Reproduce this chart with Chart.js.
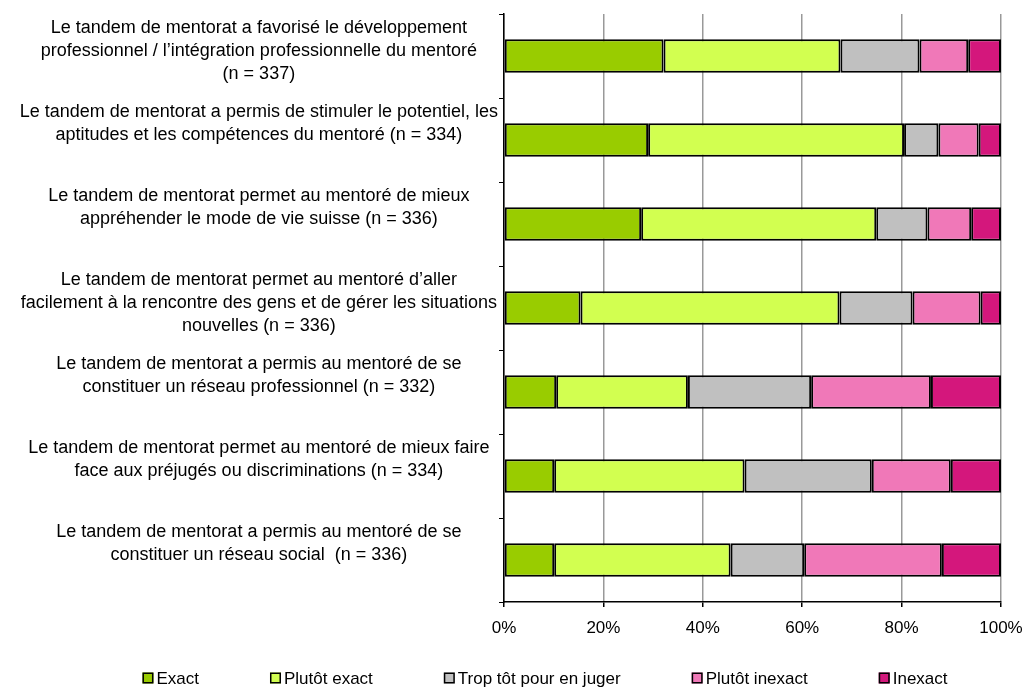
<!DOCTYPE html>
<html>
<head>
<meta charset="utf-8">
<script src="https://cdn.jsdelivr.net/npm/chart.js@4/dist/chart.umd.min.js"></script>
<style>
  body { margin: 0; background: #fff; }
  canvas { display: block; }
</style>
</head>
<body>
<canvas id="mentorat" width="1027" height="687"></canvas>
<script>
const categories = [
  ["Le tandem de mentorat a favorisé le développement", "professionnel / l’intégration professionnelle du mentoré", "(n = 337)"],
  ["Le tandem de mentorat a permis de stimuler le potentiel, les", "aptitudes et les compétences du mentoré (n = 334)"],
  ["Le tandem de mentorat permet au mentoré de mieux", "appréhender le mode de vie suisse (n = 336)"],
  ["Le tandem de mentorat permet au mentoré d’aller", "facilement à la rencontre des gens et de gérer les situations", "nouvelles (n = 336)"],
  ["Le tandem de mentorat a permis au mentoré de se", "constituer un réseau professionnel (n = 332)"],
  ["Le tandem de mentorat permet au mentoré de mieux faire", "face aux préjugés ou discriminations (n = 334)"],
  ["Le tandem de mentorat a permis au mentoré de se", "constituer un réseau social  (n = 336)"],
];

const seriesNames = ["Exact", "Plutôt exact", "Trop tôt pour en juger", "Plutôt inexact", "Inexact"];

const exact = [32.1, 29.0, 27.6, 15.4, 10.5, 10.1, 10.1];
const plutotExact = [35.6, 51.5, 47.3, 52.1, 26.5, 38.3, 35.5];
const tropTot = [15.9, 6.9, 10.3, 14.7, 24.8, 25.6, 14.8];
const plutotInexact = [9.8, 8.1, 8.8, 13.7, 24.1, 15.9, 27.7];
const inexact = [6.6, 4.5, 6.0, 4.1, 14.1, 10.1, 11.9];

const xTicks = [0, 20, 40, 60, 80, 100];

const colors = ["#99cc00", "#d2ff50", "#c0c0c0", "#f078b8", "#d4177c"];
const FONT = "'Liberation Sans', Arial, sans-serif";

// 2-line labels get an empty 3rd line so they sit above the bar like in the source
const yLabels = categories.map((c) => (c.length < 3 ? c.concat([""]) : c));

// legend drawn by hand: Chart.js legend padding is shared by x and y
const bottomLegend = {
  id: "bottomLegend",
  afterDraw(chart) {
    const ctx = chart.ctx;
    const box = 11;
    const gap = 71;
    const y = 678;
    ctx.save();
    ctx.font = "17px " + FONT;
    const widths = chart.data.datasets.map((d) => box + 3 + ctx.measureText(d.label).width);
    const total = widths.reduce((a, b) => a + b, 0) + gap * (widths.length - 1);
    let x = 545 - total / 2;
    chart.data.datasets.forEach((d, i) => {
      ctx.fillStyle = d.backgroundColor;
      ctx.fillRect(x, y - box / 2, box, box);
      ctx.strokeStyle = "#000";
      ctx.lineWidth = 1.5;
      ctx.strokeRect(x + 0.75, y - box / 2 + 0.75, box - 1.5, box - 1.5);
      ctx.fillStyle = "#000";
      ctx.textBaseline = "middle";
      ctx.textAlign = "left";
      ctx.fillText(d.label, x + box + 3, y + 1);
      x += widths[i] + gap;
    });
    ctx.restore();
  },
};

const allSeries = [exact, plutotExact, tropTot, plutotInexact, inexact];

const ctx = document.getElementById("mentorat").getContext("2d");
const mentoratChart = new Chart(ctx, {
  type: "bar",
  data: {
    labels: yLabels,
    datasets: allSeries.map((values, i) => ({
      label: seriesNames[i],
      data: values,
      backgroundColor: colors[i],
      borderColor: "#000",
      borderWidth: 2,
      borderSkipped: false,
      categoryPercentage: 1,
      barPercentage: 0.4,
    })),
  },
  options: {
    indexAxis: "y",
    responsive: false,
    animation: false,
    devicePixelRatio: 1,
    layout: {
      padding: { top: 14, right: 26, left: 0, bottom: 0 },
    },
    plugins: {
      legend: { display: false },
      tooltip: { enabled: false },
    },
    scales: {
      x: {
        stacked: true,
        min: 0,
        max: 100,
        afterBuildTicks: (scale) => {
          scale.ticks = xTicks.map((v) => ({ value: v }));
        },
        afterFit: (scale) => {
          scale.height = 85;
          scale.paddingLeft = 0;
          scale.paddingRight = 0;
        },
        ticks: {
          callback: (v) => v + "%",
          color: "#000",
          font: { family: FONT, size: 17 },
          padding: 11,
          maxRotation: 0,
        },
        grid: {
          color: "#999",
          lineWidth: 1.5,
          tickColor: "#000",
          tickLength: 5,
        },
        border: { color: "#000", width: 1.5 },
      },
      y: {
        stacked: true,
        afterFit: (scale) => {
          scale.width = 504;
          scale.paddingTop = 0;
          scale.paddingBottom = 0;
        },
        ticks: {
          crossAlign: "center",
          color: "#000",
          font: { family: FONT, size: 18, lineHeight: 1.28 },
          padding: 1,
          labelOffset: -5,
          autoSkip: false,
        },
        grid: {
          drawOnChartArea: false,
          color: "#000",
          tickLength: 5,
        },
        border: { color: "#000", width: 1.5 },
      },
    },
  },
  plugins: [bottomLegend],
});
</script>
</body>
</html>
